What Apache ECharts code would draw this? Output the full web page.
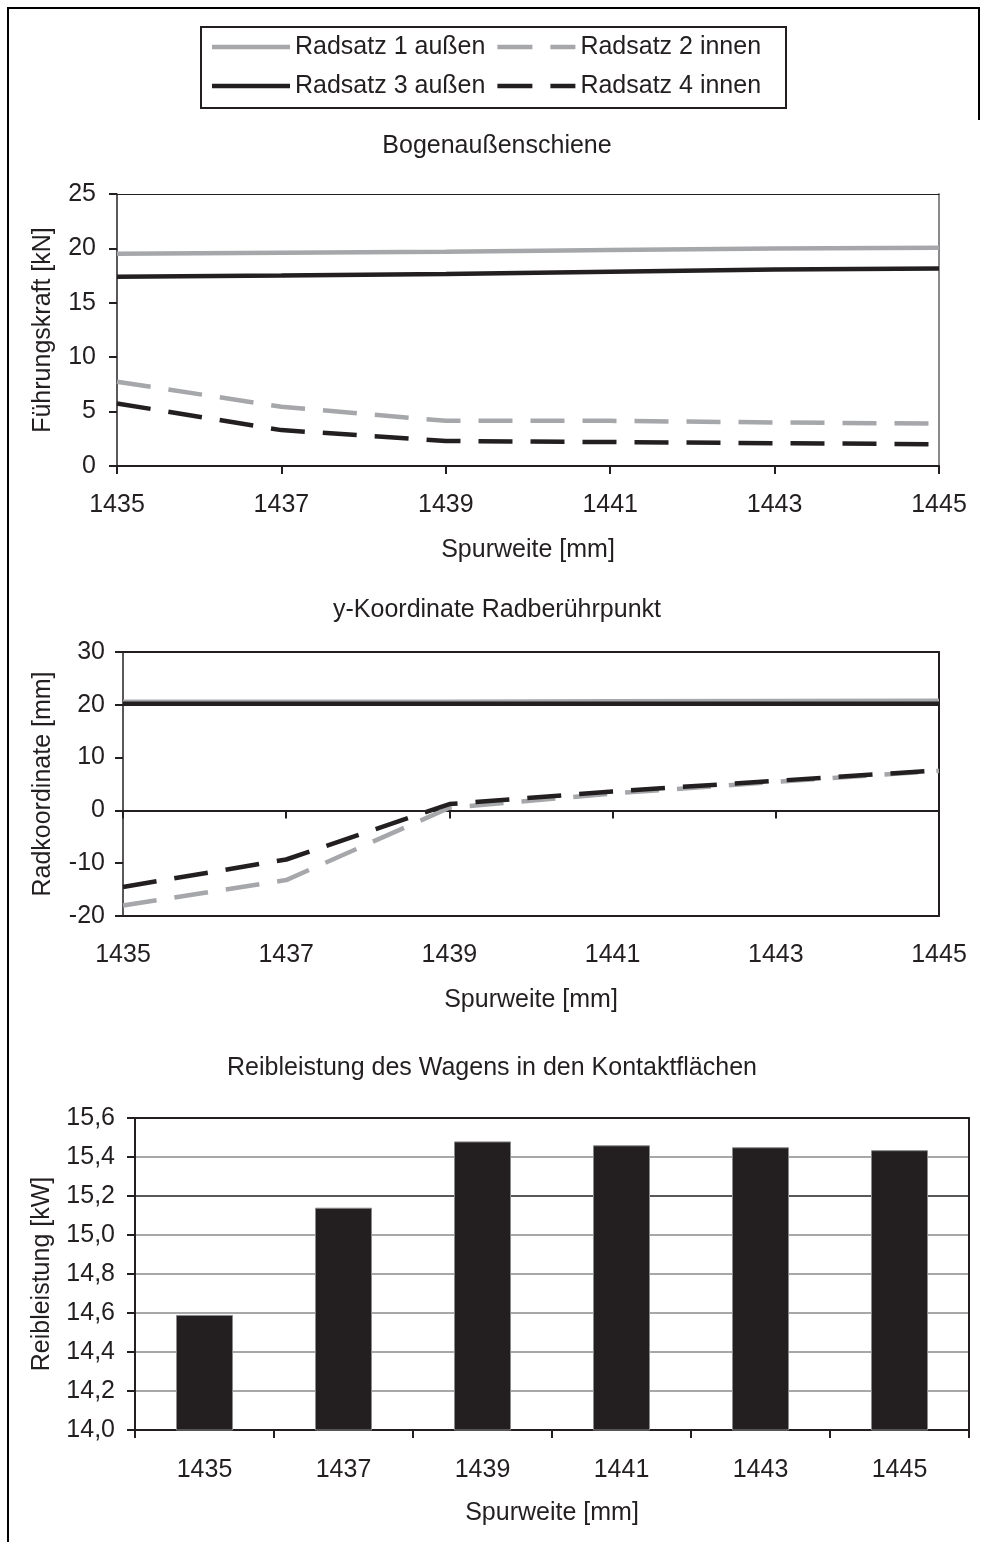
<!DOCTYPE html>
<html><head><meta charset="utf-8">
<script src="https://cdn.jsdelivr.net/npm/echarts@6/dist/echarts.min.js"></script>
<style>html,body{margin:0;padding:0;background:#fff}#c{width:982px;height:1542px}</style>
</head><body><div id="c"></div>
<script>
// ---- data ----
const spurweite = ['1435', '1437', '1439', '1441', '1443', '1445'];
const seriesNames = ['Radsatz 1 außen', 'Radsatz 2 innen', 'Radsatz 3 außen', 'Radsatz 4 innen'];
const fuehrung_r1 = [19.5, 19.6, 19.7, 19.85, 20.0, 20.05];
const fuehrung_r2 = [7.75, 5.45, 4.15, 4.15, 4.0, 3.9];
const fuehrung_r3 = [17.4, 17.5, 17.65, 17.85, 18.05, 18.15];
const fuehrung_r4 = [5.75, 3.3, 2.3, 2.2, 2.1, 2.0];
const radkoord_r1 = [20.6, 20.6, 20.6, 20.65, 20.7, 20.75];
const radkoord_r2 = [-18.0, -13.2, 0.5, 3.2, 5.4, 7.5];
const radkoord_r3 = [20.2, 20.2, 20.2, 20.2, 20.2, 20.2];
const radkoord_r4 = [-14.5, -9.3, 1.2, 3.6, 5.6, 7.6];
const reibleistung = [14.59, 15.14, 15.48, 15.46, 15.45, 15.435];
const titles = ['Bogenaußenschiene', 'y-Koordinate Radberührpunkt', 'Reibleistung des Wagens in den Kontaktflächen'];
const yNames = ['Führungskraft [kN]', 'Radkoordinate [mm]', 'Reibleistung [kW]'];
const xName = 'Spurweite [mm]';

// ---- styles ----
const FONT = 'Liberation Sans, Arial, Helvetica, sans-serif';
const BLACK = '#231f20';
const GRAY = '#a6a7aa';
const FS = 25;
const txt = { fontSize: FS, color: BLACK, fontFamily: FONT };
const seriesColors = [GRAY, GRAY, BLACK, BLACK];
const seriesDash = ['solid', [34, 18], 'solid', [34, 18]];
const ICON_SOLID = 'path://M0,0H78V4.5H0Z';
const ICON_DASH = 'path://M0,0H35V4.5H0Z M53,0H78V4.5H53Z';
const legendIcons = [ICON_SOLID, ICON_DASH, ICON_SOLID, ICON_DASH];

function lineSeries(i, data, xi, yi) {
  return {
    type: 'line', name: seriesNames[i], data: data, xAxisIndex: xi, yAxisIndex: yi,
    symbol: 'none', showSymbol: false, smooth: false,
    color: seriesColors[i],
    lineStyle: { color: seriesColors[i], width: 4.5, type: seriesDash[i] },
    emphasis: { disabled: true }
  };
}
function legendItem(i) {
  return { name: seriesNames[i], icon: legendIcons[i], itemStyle: { color: seriesColors[i], opacity: 1 } };
}

const lineAxis = (w, c) => ({ show: true, onZero: false, lineStyle: { color: c || BLACK, width: w } });
const tick = { show: true, inside: false, length: 8, lineStyle: { color: BLACK, width: 2 } };
const legendBase = { padding: 0, itemWidth: 78, itemHeight: 4.5, itemGap: 12, selectedMode: false, textStyle: txt, symbolKeepAspect: false };

const option = {
  animation: false,
  backgroundColor: '#fff',
  textStyle: { fontFamily: FONT },
  legend: [
    Object.assign({ data: [legendItem(0), legendItem(1)], left: 212, top: 34.5 }, legendBase),
    Object.assign({ data: [legendItem(2), legendItem(3)], left: 212, top: 73.5 }, legendBase)
  ],
  grid: [
    { left: 117, top: 194, width: 822, height: 272, containLabel: false },
    { left: 123, top: 652, width: 816, height: 264, containLabel: false },
    { left: 135, top: 1118, width: 834, height: 312, containLabel: false }
  ],
  xAxis: [
    { gridIndex: 0, type: 'category', data: spurweite, boundaryGap: false, position: 'bottom',
      axisLine: { show: true, onZero: false, lineStyle: { color: BLACK, width: 2 } }, axisTick: tick,
      axisLabel: Object.assign({ margin: 27 }, txt), splitLine: { show: false },
      name: xName, nameLocation: 'middle', nameGap: 72, nameTextStyle: txt },
    { gridIndex: 0, type: 'category', data: spurweite, boundaryGap: false, position: 'top',
      axisLine: lineAxis(1), axisTick: { show: false }, axisLabel: { show: false }, splitLine: { show: false } },
    { gridIndex: 1, type: 'category', data: spurweite, boundaryGap: false, position: 'bottom',
      axisLine: { show: true, onZero: true, lineStyle: { color: BLACK, width: 2 } }, axisTick: tick,
      axisLabel: { show: false }, splitLine: { show: false } },
    { gridIndex: 1, type: 'category', data: spurweite, boundaryGap: false, position: 'bottom',
      axisLine: lineAxis(2), axisTick: { show: false },
      axisLabel: Object.assign({ margin: 27 }, txt), splitLine: { show: false },
      name: xName, nameLocation: 'middle', nameGap: 72, nameTextStyle: txt },
    { gridIndex: 1, type: 'category', data: spurweite, boundaryGap: false, position: 'top',
      axisLine: lineAxis(2), axisTick: { show: false }, axisLabel: { show: false }, splitLine: { show: false } },
    { gridIndex: 2, type: 'category', data: spurweite, boundaryGap: true, position: 'bottom',
      axisLine: lineAxis(2), axisTick: tick,
      axisLabel: Object.assign({ margin: 28 }, txt), splitLine: { show: false },
      name: xName, nameLocation: 'middle', nameGap: 71, nameTextStyle: txt },
    { gridIndex: 2, type: 'category', data: spurweite, boundaryGap: true, position: 'top',
      axisLine: lineAxis(2), axisTick: { show: false }, axisLabel: { show: false }, splitLine: { show: false } }
  ],
  yAxis: [
    { gridIndex: 0, type: 'value', min: 0, max: 25, interval: 5, position: 'left',
      axisLine: lineAxis(1.5), axisTick: tick, axisLabel: Object.assign({ margin: 21 }, txt),
      splitLine: { show: false },
      name: yNames[0], nameLocation: 'middle', nameRotate: 90, nameGap: 61, nameTextStyle: txt },
    { gridIndex: 0, type: 'value', min: 0, max: 25, interval: 5, position: 'right',
      axisLine: lineAxis(2, '#8a8a8c'), axisTick: { show: false }, axisLabel: { show: false }, splitLine: { show: false } },
    { gridIndex: 1, type: 'value', min: -20, max: 30, interval: 10, position: 'left',
      axisLine: lineAxis(1.5), axisTick: tick, axisLabel: Object.assign({ margin: 18 }, txt),
      splitLine: { show: false },
      name: yNames[1], nameLocation: 'middle', nameRotate: 90, nameGap: 67, nameTextStyle: txt },
    { gridIndex: 1, type: 'value', min: -20, max: 30, interval: 10, position: 'right',
      axisLine: lineAxis(2), axisTick: { show: false }, axisLabel: { show: false }, splitLine: { show: false } },
    { gridIndex: 2, type: 'value', min: 14, max: 15.6, interval: 0.2, position: 'left',
      axisLine: lineAxis(2), axisTick: tick,
      axisLabel: Object.assign({ margin: 20, formatter: v => v.toFixed(1).replace('.', ',') }, txt),
      splitLine: { show: true, lineStyle: { width: 1.5, color: ['#8a8a8c', '#8a8a8c', '#8a8a8c', '#8a8a8c', '#8a8a8c', '#8a8a8c', BLACK, '#8a8a8c', '#8a8a8c'] } },
      name: yNames[2], nameLocation: 'middle', nameRotate: 90, nameGap: 80, nameTextStyle: txt },
    { gridIndex: 2, type: 'value', min: 14, max: 15.6, interval: 0.2, position: 'right',
      axisLine: lineAxis(2), axisTick: { show: false }, axisLabel: { show: false }, splitLine: { show: false } }
  ],
  series: [
    lineSeries(0, fuehrung_r1, 0, 0),
    lineSeries(1, fuehrung_r2, 0, 0),
    lineSeries(2, fuehrung_r3, 0, 0),
    lineSeries(3, fuehrung_r4, 0, 0),
    lineSeries(0, radkoord_r1, 2, 2),
    lineSeries(1, radkoord_r2, 2, 2),
    lineSeries(2, radkoord_r3, 2, 2),
    lineSeries(3, radkoord_r4, 2, 2),
    { type: 'bar', name: 'Reibleistung', data: reibleistung, xAxisIndex: 5, yAxisIndex: 4,
      barWidth: 57, itemStyle: { color: BLACK, borderColor: '#8a8a8c', borderWidth: 1 },
      emphasis: { disabled: true } }
  ],
  graphic: [
    { type: 'line', shape: { x1: 8, y1: 7, x2: 8, y2: 1542 }, style: { stroke: '#000', lineWidth: 2 } },
    { type: 'line', shape: { x1: 7, y1: 8, x2: 980, y2: 8 }, style: { stroke: '#000', lineWidth: 2 } },
    { type: 'line', shape: { x1: 979, y1: 7, x2: 979, y2: 120 }, style: { stroke: '#000', lineWidth: 2 } },
    { type: 'rect', shape: { x: 201, y: 27, width: 585, height: 81 }, style: { fill: 'none', stroke: BLACK, lineWidth: 2 } },
    { type: 'text', x: 497, y: 146, style: { text: titles[0], fontSize: FS, fontFamily: FONT, fill: BLACK, align: 'center', verticalAlign: 'middle' } },
    { type: 'text', x: 497, y: 610, style: { text: titles[1], fontSize: FS, fontFamily: FONT, fill: BLACK, align: 'center', verticalAlign: 'middle' } },
    { type: 'text', x: 492, y: 1068, style: { text: titles[2], fontSize: FS, fontFamily: FONT, fill: BLACK, align: 'center', verticalAlign: 'middle' } }
  ]
};

const chart = echarts.init(document.getElementById('c'), null, { renderer: 'canvas' });
chart.setOption(option);
</script>
</body></html>
